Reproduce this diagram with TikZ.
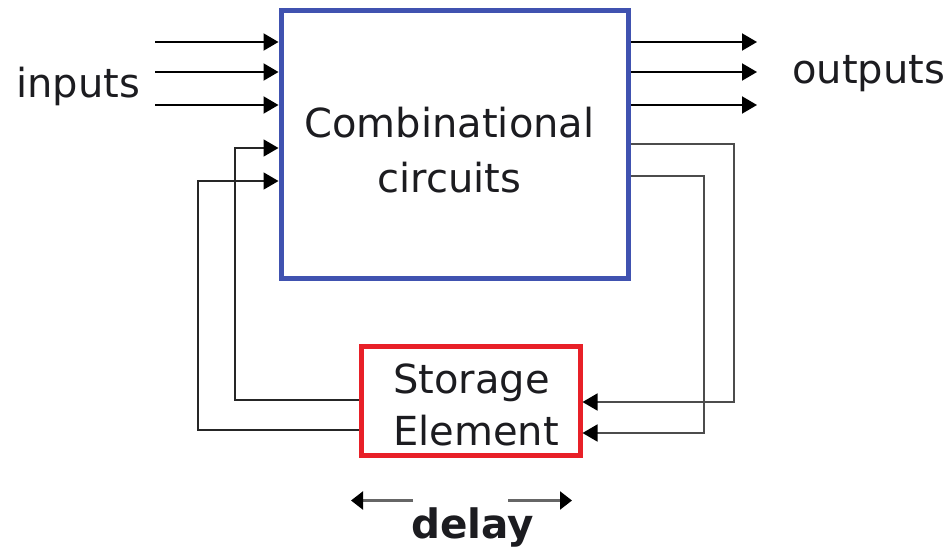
\documentclass[tikz,border=0pt]{standalone}
\usepackage{fontspec}
\setmainfont{DejaVu Sans}
\usetikzlibrary{arrows.meta}
\definecolor{cblue}{RGB}{64,82,176}
\definecolor{cred}{RGB}{232,32,40}
\definecolor{ctext}{RGB}{28,28,32}
\tikzset{
  bigtip/.tip={Triangle[length=15pt,width=17pt,color=black]},
  smalltip/.tip={Triangle[length=12pt,width=18pt,color=black]},
}
\begin{document}
\begin{tikzpicture}[x=1pt,y=-1pt,
  txt/.style={inner sep=0pt, text=ctext, font=\fontsize{40}{48}\selectfont},
  arr/.style={line width=2pt, draw=black, arrows={-bigtip}},
  fbarr/.style={line width=1.6pt, draw=black!85, arrows={-bigtip}},
  fbarrr/.style={line width=1.6pt, draw=black!70, arrows={-bigtip}},
  dlarr/.style={line width=2.2pt, draw=black!60, arrows={-smalltip}},
  combbox/.style={draw=cblue, line width=5pt, minimum width=347.5pt, minimum height=268pt, inner sep=0pt},
  storbox/.style={draw=cred, line width=5pt, minimum width=219pt, minimum height=109pt, inner sep=0pt}]
\useasboundingbox (0,0) rectangle (949,554);
\fill[white] (0,0) rectangle (949,554);
% boxes
\node[combbox] (comb) at (454.75,144.5) {};
\node[storbox] (stor) at (470.5,400.5) {};
% texts
\node[txt, anchor=base] (c1) at (449.5,137) {Combinational};
\node[txt, anchor=base] (c2) at (449.5,192) {circuits};
\node[txt, anchor=base west] (s1) at (393,393) {Storage};
\node[txt, anchor=base west] (s2) at (393,445) {Element};
\node[txt, anchor=base west] (inp) at (16,97) {inputs};
\node[txt, anchor=base west] (outp) at (792,83) {outputs};
\node[txt, font=\bfseries\fontsize{40.5}{48}\selectfont, anchor=base] (dl) at (472.5,538) {delay};
% inputs and outputs
\foreach \y [count=\i] in {42,72,105} {
  \coordinate (in\i) at (155,\y);
  \coordinate (out\i) at (757,\y);
  \draw[arr] (in\i) -- (comb.west |- in\i);
  \draw[arr] (comb.east |- out\i) -- (out\i);
}
% left feedback
\coordinate (la) at (235,400);
\coordinate (lb) at (235,148);
\coordinate (lc) at (198,430);
\coordinate (ld) at (198,181);
\draw[fbarr] (stor.west |- la) -- (la) -- (lb) -- (comb.west |- lb);
\draw[fbarr] (stor.west |- lc) -- (lc) -- (ld) -- (comb.west |- ld);
% right feedback
\coordinate (ra) at (734,144);
\coordinate (rb) at (734,402);
\coordinate (rc) at (704,176);
\coordinate (rd) at (704,433);
\draw[fbarrr] (comb.east |- ra) -- (ra) -- (rb) -- (stor.east |- rb);
\draw[fbarrr] (comb.east |- rc) -- (rc) -- (rd) -- (stor.east |- rd);
% delay arrows
\coordinate (d1) at (413,500.5);
\coordinate (d2) at (351,500.5);
\coordinate (d3) at (508,500.5);
\coordinate (d4) at (572,500.5);
\draw[dlarr] (d1) -- (d2);
\draw[dlarr] (d3) -- (d4);
\end{tikzpicture}
\end{document}
